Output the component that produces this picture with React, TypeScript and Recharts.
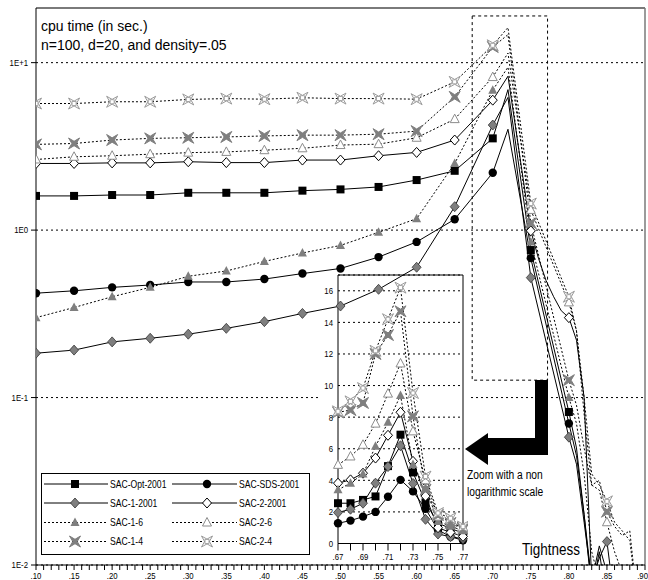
import React from 'react'
import { LineChart, Line, XAxis, YAxis, CartesianGrid, ReferenceLine, ReferenceArea } from 'recharts'

const FONT = '"Liberation Sans", Arial, sans-serif'
const SQUEEZE = 0.82 // the reference uses a condensed face, no narrow font here

// main chart (log scale), cpu time in sec. against tightness
const tightness = [0.10, 0.15, 0.20, 0.25, 0.30, 0.35, 0.40, 0.45, 0.50, 0.55, 0.60, 0.65, 0.70, 0.72, 0.75, 0.76, 0.77, 0.78, 0.79, 0.80, 0.81, 0.82, 0.83, 0.84, 0.85, 0.86, 0.87, 0.88, 0.89]
const sacOpt2001 = [1.6, 1.6, 1.62, 1.62, 1.67, 1.67, 1.67, 1.72, 1.75, 1.81, 1.99, 2.26, 3.53, 6.9, 0.76, null, null, null, null, 0.082, 0.05, 0.02, 0.007, 0.012, 0.006, null, null, null, null]
const sacSds2001 = [0.42, 0.434, 0.455, 0.47, 0.49, 0.49, 0.51, 0.55, 0.59, 0.69, 0.85, 1.16, 2.2, 4.0, 0.68, null, null, null, null, 0.07, 0.045, 0.02, 0.008, 0.013, 0.009, 0.006, null, null, null]
const sac1_2001 = [0.184, 0.192, 0.215, 0.226, 0.239, 0.259, 0.284, 0.318, 0.352, 0.443, 0.6, 1.38, 4.24, 6.2, 0.52, null, null, null, null, 0.058, 0.04, 0.018, 0.008, 0.011, 0.0138, 0.006, null, null, null]
const sac2_2001 = [2.5, 2.5, 2.52, 2.52, 2.56, 2.53, 2.53, 2.62, 2.62, 2.78, 2.91, 3.45, 5.97, 8.3, 0.99, 0.68, 0.5, 0.4, 0.33, 0.3, 0.22, 0.1, 0.008, null, null, null, null, null, null]
const sac1_6 = [0.3, 0.345, 0.4, 0.455, 0.53, 0.57, 0.65, 0.73, 0.81, 0.97, 1.17, 2.5, 6.85, 9.4, 0.85, null, null, null, null, 0.1, 0.07, 0.035, 0.012, 0.008, null, null, null, null, null]
const sac2_6 = [2.64, 2.74, 2.78, 2.84, 2.9, 2.93, 3.0, 3.08, 3.22, 3.26, 3.56, 4.6, 8.2, 11.4, 1.32, null, null, null, null, 0.37, 0.25, 0.08, 0.03, 0.028, 0.018, 0.012, 0.009, null, null]
const sac1_4 = [3.25, 3.29, 3.45, 3.53, 3.56, 3.6, 3.65, 3.69, 3.69, 3.74, 3.9, 6.25, 12.4, 14.7, 1.1, null, null, null, null, 0.127, 0.09, 0.05, 0.03, 0.032, 0.0208, 0.017, 0.015, 0.016, 0.006]
const sac2_4 = [5.7, 5.7, 5.84, 5.84, 6.03, 6.1, 6.05, 6.17, 6.1, 6.1, 6.05, 7.68, 12.7, 16.2, 1.44, null, null, null, null, 0.4, 0.25, 0.1, 0.035, 0.03, 0.024, 0.018, 0.016, 0.014, 0.006]

const yTicks = [0.01, 0.1, 1, 10]
const yTickLabels = ['1E-2', '1E-1', '1E0', '1E+1']
const xTickLabels = ['.10', '.15', '.20', '.25', '.30', '.35', '.40', '.45', '.50', '.55', '.60', '.65', '.70', '.75', '.80', '.85', '.90']

// inset (linear scale), tightness .67 - .77
const zoomTightness = [0.67, 0.68, 0.69, 0.70, 0.71, 0.72, 0.73, 0.74, 0.75, 0.76, 0.77]
const zoomOpt2001 = [2.55, 2.55, 2.76, 2.98, 4.9, 6.89, 4.5, 2.6, 1.28, 0.96, 0.65]
const zoomSds2001 = [1.28, 1.45, 1.7, 2.0, 2.96, 4.03, 3.3, 2.2, 0.86, 0.43, 0.2]
const zoom1_2001 = [1.96, 2.17, 2.55, 3.82, 4.87, 6.19, 3.8, 1.53, 0.6, 0.43, 0.3]
const zoom2_2001 = [3.82, 4.03, 4.45, 5.41, 6.85, 8.31, 5.2, 3.0, 1.0, 0.7, 0.45]
const zoom1_6 = [3.4, 3.82, 4.4, 6.15, 7.67, 9.37, 5.0, 3.5, 1.4, 1.1, 0.8]
const zoom2_6 = [4.98, 5.51, 6.25, 7.59, 9.49, 11.4, 7.1, 4.0, 1.7, 1.4, 0.95]
const zoom1_4 = [8.3, 8.45, 8.9, 12.0, 13.2, 14.7, 8.05, 3.4, 1.8, 1.3, 0.9]
const zoom2_4 = [8.37, 9.0, 9.84, 12.2, 14.2, 16.2, 9.53, 4.24, 1.93, 1.6, 1.07]

const zoomYTicks = [0, 2, 4, 6, 8, 10, 12, 14, 16]
const zoomXTickLabels = ['.67', '.69', '.71', '.73', '.75', '.77']

const series = [
  { key: 'opt', name: 'SAC-Opt-2001', main: sacOpt2001, zoom: zoomOpt2001, dashed: false, marker: 'square' },
  { key: 'sds', name: 'SAC-SDS-2001', main: sacSds2001, zoom: zoomSds2001, dashed: false, marker: 'circle' },
  { key: 's1', name: 'SAC-1-2001', main: sac1_2001, zoom: zoom1_2001, dashed: false, marker: 'diamondGray' },
  { key: 's2', name: 'SAC-2-2001', main: sac2_2001, zoom: zoom2_2001, dashed: false, marker: 'diamondOpen' },
  { key: 't1', name: 'SAC-1-6', main: sac1_6, zoom: zoom1_6, dashed: true, marker: 'triFilled' },
  { key: 't2', name: 'SAC-2-6', main: sac2_6, zoom: zoom2_6, dashed: true, marker: 'triOpen' },
  { key: 'x1', name: 'SAC-1-4', main: sac1_4, zoom: zoom1_4, dashed: true, marker: 'starFilled' },
  { key: 'x2', name: 'SAC-2-4', main: sac2_4, zoom: zoom2_4, dashed: true, marker: 'starOpen' },
]

const mainRows = tightness.map((x, i) => {
  const row: any = { x }
  series.forEach(s => { row[s.key] = s.main[i] })
  return row
})
const zoomRows = zoomTightness.map((x, i) => {
  const row: any = { x }
  series.forEach(s => { row[s.key] = s.zoom[i] })
  return row
})

const mainXTicks = Array.from({ length: 81 }, (_, i) => (10 + i) / 100)
const zoomXTicks = Array.from({ length: 11 }, (_, i) => (67 + i) / 100)

// condensed text: squeeze horizontally around the anchor point
function NText({ x, y, size, anchor = 'start', dy, children }: any) {
  return (
    <text transform={`translate(${x},${y}) scale(${SQUEEZE},1)`} fontSize={size} fontFamily={FONT}
      textAnchor={anchor} dy={dy} fill="#000">{children}</text>
  )
}

function star(cx: number, cy: number, s: number, r: number) {
  return `M${cx - s},${cy - s}L${cx},${cy - r}L${cx + s},${cy - s}L${cx + r},${cy}L${cx + s},${cy + s}L${cx},${cy + r}L${cx - s},${cy + s}L${cx - r},${cy}Z`
}

function Marker({ type, cx, cy }: { type: string; cx: number; cy: number }) {
  switch (type) {
    case 'square':
      return <rect x={cx - 4} y={cy - 4} width={8} height={8} fill="#000" />
    case 'circle':
      return <circle cx={cx} cy={cy} r={4.2} fill="#000" />
    case 'diamondGray':
      return <path d={`M${cx},${cy - 5}L${cx + 4.5},${cy}L${cx},${cy + 5}L${cx - 4.5},${cy}Z`} fill="#7f7f7f" stroke="#333" strokeWidth={0.8} />
    case 'diamondOpen':
      return <path d={`M${cx},${cy - 5}L${cx + 4.5},${cy}L${cx},${cy + 5}L${cx - 4.5},${cy}Z`} fill="#fff" stroke="#000" strokeWidth={1} />
    case 'triFilled':
      return <path d={`M${cx},${cy - 5}L${cx + 4.5},${cy + 3.5}L${cx - 4.5},${cy + 3.5}Z`} fill="#7f7f7f" />
    case 'triOpen':
      return <path d={`M${cx},${cy - 5}L${cx + 4.5},${cy + 3.5}L${cx - 4.5},${cy + 3.5}Z`} fill="#fff" stroke="#8c8c8c" strokeWidth={1} />
    case 'starFilled':
      return <path d={star(cx, cy, 5.5, 2.2)} fill="#7f7f7f" stroke="#7f7f7f" strokeWidth={1} />
    case 'starOpen':
      return (
        <g>
          <path d={star(cx, cy, 5.5, 2.4)} fill="#fff" stroke="#999" strokeWidth={1} />
          <rect x={cx - 2} y={cy - 2} width={4} height={4} fill="none" stroke="#999" strokeWidth={0.8} />
        </g>
      )
    default:
      return null
  }
}

const makeDot = (marker: string, majorOnly: boolean) => (p: any) => {
  const { cx, cy, payload, index, value } = p
  const k = `${marker}-${index}`
  if (cx == null || cy == null || value == null || Number.isNaN(cy)) return <g key={k} />
  if (majorOnly && Math.round(payload.x * 100) % 5 !== 0) return <g key={k} />
  return <Marker key={k} type={marker} cx={cx} cy={cy} />
}

function MainXTick({ x, y, payload }: any) {
  const i = xTickLabels.findIndex(l => Math.abs(parseFloat('0' + l) - payload.value) < 1e-6)
  if (i < 0) return <g />
  const last = i === xTickLabels.length - 1
  return <NText x={last ? 648 : x} y={y} size={9.5} dy="0.71em" anchor={last ? 'end' : 'middle'}>{xTickLabels[i]}</NText>
}

function MainYTick({ x, y, payload }: any) {
  return <NText x={x} y={y} size={9.5} dy="0.355em" anchor="end">{yTickLabels[yTicks.indexOf(payload.value)]}</NText>
}

function ZoomXTick({ x, y, payload }: any) {
  const lbl = zoomXTickLabels.find(l => Math.abs(parseFloat('0' + l) - payload.value) < 1e-6)
  if (!lbl) return <g />
  return <NText x={x} y={y} size={9.5} dy="0.71em" anchor="middle">{lbl}</NText>
}

function ZoomYTick({ x, y, payload }: any) {
  return <NText x={x} y={y} size={9.5} dy="0.355em" anchor="end">{payload.value}</NText>
}

function MainBase() {
  return (
    <LineChart width={648} height={580} data={mainRows} margin={{ top: 8, right: 3, left: 0, bottom: 0 }}>
      <CartesianGrid vertical={false} stroke="#000" strokeDasharray="2 3" />
      <XAxis dataKey="x" type="number" domain={[0.1, 0.9]} ticks={mainXTicks} interval={0}
        height={15} tickSize={5} tickMargin={2} tick={<MainXTick />}
        axisLine={{ stroke: '#000' }} tickLine={{ stroke: '#000' }} allowDataOverflow />
      <YAxis type="number" scale="log" domain={[0.01, 21.2]} ticks={yTicks} allowDataOverflow
        width={36} tickSize={5} tickMargin={3} tick={<MainYTick />}
        axisLine={{ stroke: '#000' }} tickLine={{ stroke: '#000' }} />
      <ReferenceLine y={21.2} stroke="#7a7a7a" strokeWidth={2} />
      <ReferenceLine x={0.9} stroke="#7a7a7a" strokeWidth={1.5} />
      <ReferenceArea x1={0.673} x2={0.772} y1={0.127} y2={19} fill="none" fillOpacity={0}
        stroke="#000" strokeDasharray="3 3" strokeWidth={1} />
    </LineChart>
  )
}

function MainSeries() {
  return (
    <LineChart width={648} height={580} data={mainRows} margin={{ top: 8, right: 3, left: 36, bottom: 15 }}>
      <XAxis dataKey="x" type="number" domain={[0.1, 0.9]} hide allowDataOverflow />
      <YAxis type="number" scale="log" domain={[0.01, 21.2]} hide allowDataOverflow />
      {series.map(s => (
        <Line key={s.key} dataKey={s.key} type="linear" stroke="#000" strokeWidth={1}
          strokeDasharray={s.dashed ? '2 2' : undefined} connectNulls
          dot={makeDot(s.marker, true)} activeDot={false} isAnimationActive={false} />
      ))}
    </LineChart>
  )
}

function ZoomChart() {
  return (
    <LineChart width={150} height={295} data={zoomRows} margin={{ top: 5, right: 5, left: 0, bottom: 0 }}>
      <CartesianGrid vertical={false} stroke="#000" strokeDasharray="2 3" />
      <XAxis dataKey="x" type="number" domain={[0.67, 0.77]} ticks={zoomXTicks} interval={0}
        height={21.5} tickSize={7} tickMargin={3} tick={<ZoomXTick />}
        axisLine={{ stroke: '#000' }} tickLine={{ stroke: '#000' }} />
      <YAxis type="number" domain={[0, 17]} ticks={zoomYTicks} interval={0} width={20}
        tickLine={false} tickSize={3} tickMargin={2} tick={<ZoomYTick />}
        axisLine={{ stroke: '#000' }} />
      <ReferenceLine y={17} stroke="#000" />
      <ReferenceLine x={0.77} stroke="#000" />
      {series.map(s => (
        <Line key={s.key} dataKey={s.key} type="linear" stroke="#000" strokeWidth={1}
          strokeDasharray={s.dashed ? '2 2' : undefined}
          dot={makeDot(s.marker, false)} activeDot={false} isAnimationActive={false} />
      ))}
    </LineChart>
  )
}

function Overlay() {
  const cols = [
    { lineX1: 44, lineX2: 108, mark: 75, text: 110 },
    { lineX1: 172, lineX2: 237, mark: 207, text: 239 },
  ]
  const rows = [484, 503, 522.5, 541.5]
  return (
    <svg width={648} height={580} style={{ position: 'absolute', left: 0, top: 0, pointerEvents: 'none' }}>
      <text x={41} y={31} fontSize={14} fontFamily={FONT}>cpu time (in sec.)</text>
      <text x={41} y={50} fontSize={14} fontFamily={FONT}>n=100, d=20, and density=.05</text>

      <rect x={41.5} y={473.5} width={268} height={81} fill="#fff" stroke="#000" strokeWidth={1} />
      {series.map((s, i) => {
        const c = cols[i % 2]
        const y = rows[Math.floor(i / 2)]
        return (
          <g key={s.key}>
            <line x1={c.lineX1} x2={c.lineX2} y1={y} y2={y} stroke="#000" strokeWidth={1}
              strokeDasharray={s.dashed ? '2 2' : undefined} />
            <Marker type={s.marker} cx={c.mark} cy={y} />
            <NText x={c.text} y={y + 3.8} size={10.5}>{s.name}</NText>
          </g>
        )
      })}

      <polygon points="535,380 548,380 548,455 488,455 488,465 465,449 488,433 488,438 535,438" fill="#000" />
      <NText x={467} y={479} size={12.5}>Zoom with a non</NText>
      <NText x={467} y={496} size={12.5}>logarithmic scale</NText>
      <NText x={522} y={555} size={16.5}>Tightness</NText>
    </svg>
  )
}

export default function App() {
  return (
    <div style={{ position: 'absolute', left: 0, top: 0, width: 648, height: 580, background: '#fff' }}>
      <div style={{ position: 'absolute', left: 0, top: 0 }}>
        <MainBase />
      </div>
      <div style={{ position: 'absolute', left: 318, top: 270, width: 150, height: 293, background: '#fff' }} />
      <div style={{ position: 'absolute', left: 318, top: 270 }}>
        <ZoomChart />
      </div>
      <div style={{ position: 'absolute', left: 0, top: 0 }}>
        <MainSeries />
      </div>
      <Overlay />
    </div>
  )
}
